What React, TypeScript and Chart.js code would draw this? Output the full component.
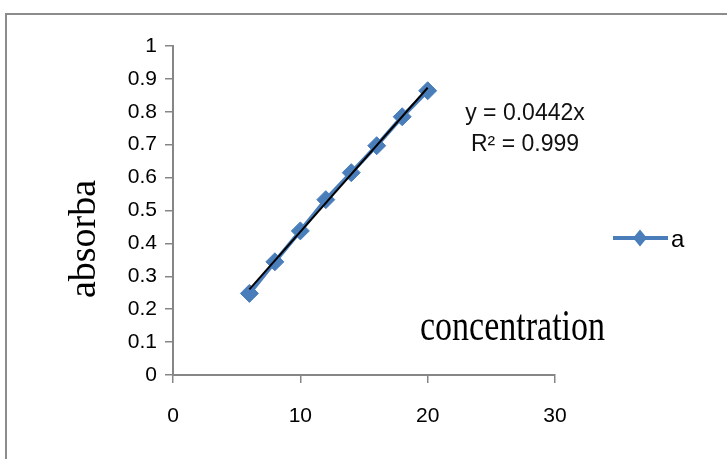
import React, { useEffect, useRef } from "react";
import { Chart, registerables } from "chart.js";

Chart.register(...registerables);

const concentration = [6, 8, 10, 12, 14, 16, 18, 20];
const absorbance = [0.248, 0.344, 0.438, 0.533, 0.615, 0.697, 0.785, 0.864];
const trendX = [6, 20];
const trendY = [0.26, 0.873];
const xTicks = [0, 10, 20, 30];
const yTicks = [0, 0.1, 0.2, 0.3, 0.4, 0.5, 0.6, 0.7, 0.8, 0.9, 1];
const seriesName = "a";
const equationText = "y = 0.0442x";
const r2Text = "R\u00B2 = 0.999";
const yTitle = "absorba";
const xTitle = "concentration";

const BLUE = "#4a7ebb";
const GRAY = "#868686";
const SANS = "'Liberation Sans', Arial, sans-serif";

const decorPlugin = {
  id: "decor",
  afterDraw(chart: any) {
    const ctx = chart.ctx as CanvasRenderingContext2D;
    ctx.save();
    // outer frame (partially visible)
    ctx.strokeStyle = "#8c8c8c";
    ctx.lineWidth = 2;
    ctx.beginPath();
    ctx.moveTo(6, chart.height);
    ctx.lineTo(6, 14);
    ctx.lineTo(chart.width, 14);
    ctx.stroke();

    // equation
    ctx.fillStyle = "#111";
    ctx.font = "23px " + SANS;
    ctx.textAlign = "center";
    ctx.textBaseline = "alphabetic";
    ctx.fillText(equationText, 525, 120);
    ctx.fillText(r2Text, 525, 151);

    // y title rotated
    ctx.save();
    ctx.translate(95, 239);
    ctx.rotate(-Math.PI / 2);
    ctx.font = "38px 'Liberation Serif', 'Times New Roman', serif";
    ctx.textAlign = "center";
    ctx.textBaseline = "alphabetic";
    ctx.fillStyle = "#000";
    ctx.fillText(yTitle, 0, 0);
    ctx.restore();

    // x title inside plot
    ctx.save();
    ctx.translate(420, 340);
    ctx.scale(1, 1.3);
    ctx.font = "34px 'Liberation Serif', 'Times New Roman', serif";
    ctx.textAlign = "left";
    ctx.textBaseline = "alphabetic";
    ctx.fillStyle = "#000";
    ctx.fillText(xTitle, 0, 0);
    ctx.restore();

    // legend
    const ly = 238;
    ctx.strokeStyle = BLUE;
    ctx.lineWidth = 4;
    ctx.beginPath();
    ctx.moveTo(613, ly);
    ctx.lineTo(668, ly);
    ctx.stroke();
    ctx.fillStyle = BLUE;
    ctx.beginPath();
    ctx.moveTo(640, ly - 8.5);
    ctx.lineTo(647, ly);
    ctx.lineTo(640, ly + 8.5);
    ctx.lineTo(633, ly);
    ctx.closePath();
    ctx.fill();
    ctx.fillStyle = "#000";
    ctx.font = "24px " + SANS;
    ctx.textAlign = "left";
    ctx.fillText(seriesName, 671, 247);
    ctx.restore();
  },
};

export default function App() {
  const ref = useRef<HTMLCanvasElement | null>(null);
  useEffect(() => {
    if (!ref.current) return;
    const chart = new Chart(ref.current, {
      type: "scatter",
      data: {
        datasets: [
          {
            label: "trend",
            data: trendX.map((x, i) => ({ x, y: trendY[i] })),
            showLine: true,
            borderColor: "#000",
            borderWidth: 2,
            pointRadius: 0,
            order: 0,
          },
          {
            label: seriesName,
            data: concentration.map((x, i) => ({ x, y: absorbance[i] })),
            showLine: true,
            borderColor: BLUE,
            borderWidth: 4,
            pointStyle: "rectRot",
            pointRadius: 9,
            pointBackgroundColor: BLUE,
            pointBorderColor: BLUE,
            pointBorderWidth: 1,
            order: 1,
          },
        ],
      },
      options: {
        responsive: false,
        animation: false,
        devicePixelRatio: 1,
        layout: { padding: { top: 46, right: 172, bottom: 0, left: 0 } },
        plugins: { legend: { display: false }, tooltip: { enabled: false } },
        scales: {
          x: {
            type: "linear",
            min: 0,
            max: 30,
            afterFit: (s: any) => { s.height = 84; },
            afterBuildTicks: (s: any) => { s.ticks = xTicks.map((v) => ({ value: v })); },
            ticks: { color: "#000", padding: 21, font: { size: 21, family: SANS } },
            grid: { display: true, drawOnChartArea: false, tickLength: 8, color: GRAY, lineWidth: 1.5 },
            border: { display: true, color: GRAY, width: 2 },
          },
          y: {
            type: "linear",
            min: 0,
            max: 1,
            afterFit: (s: any) => { s.width = 173; },
            afterBuildTicks: (s: any) => { s.ticks = yTicks.map((v) => ({ value: v })); },
            ticks: {
              color: "#000",
              padding: 8,
              font: { size: 21, family: SANS },
              callback: (v: any) => String(Math.round(Number(v) * 10) / 10),
            },
            grid: { display: true, drawOnChartArea: false, tickLength: 8, color: GRAY, lineWidth: 1.5 },
            border: { display: true, color: GRAY, width: 2 },
          },
        },
      },
      plugins: [decorPlugin],
    } as any);
    return () => chart.destroy();
  }, []);
  return (
    <div style={{ position: "fixed", left: 0, top: 0, width: 727, height: 459, background: "#fff" }}>
      <canvas ref={ref} width={727} height={459} style={{ display: "block" }} />
    </div>
  );
}
